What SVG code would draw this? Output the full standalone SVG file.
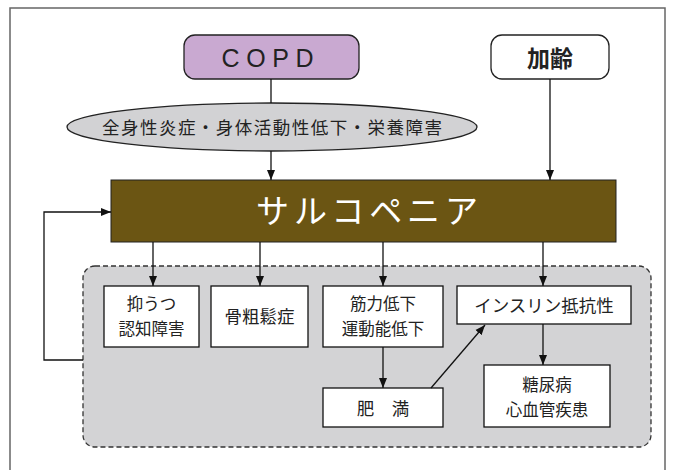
<svg xmlns="http://www.w3.org/2000/svg" width="674" height="470" viewBox="0 0 674 470">
<defs>
<marker id="ah" viewBox="0 0 10 10" refX="10" refY="5" markerWidth="10" markerHeight="10" markerUnits="userSpaceOnUse" orient="auto">
<path d="M0,1 L10,5 L0,9 Z" fill="#111"/>
</marker>
</defs>
<style>
text{font-family:"Noto Sans CJK JP","Liberation Sans",sans-serif;fill:#222;text-anchor:middle}
.box{fill:#fff;stroke:#111;stroke-width:1.3}
.t{font-size:17.5px}
.t2{font-size:16.5px}
.ln{fill:none;stroke:#111;stroke-width:1.3}
</style>
<rect x="10" y="8" width="655" height="480" fill="#fff" stroke="#666" stroke-width="1.5"/>
<g id="copd">
<rect x="184" y="35" width="175" height="44" rx="11" fill="#c9a9d1" stroke="#222" stroke-width="1.3"/>
<text x="271.5" y="67" style="font-family:'Liberation Sans',sans-serif;font-size:25px;letter-spacing:8px" textLength="100">COPD</text>
</g>
<g id="aging">
<rect x="491" y="35" width="118" height="44" rx="11" fill="#fff" stroke="#222" stroke-width="1.3"/>
<text x="550" y="67" style="font-size:23px;font-weight:bold">加齢</text>
</g>
<g id="factors">
<ellipse cx="272" cy="127" rx="205" ry="24" fill="#d2d2d4" stroke="#222" stroke-width="1.3"/>
<text x="272" y="134" class="t" textLength="340" lengthAdjust="spacing">全身性炎症・身体活動性低下・栄養障害</text>
</g>
<g id="sarcopenia">
<rect x="111" y="180" width="505" height="62" fill="#6b5513" stroke="#222" stroke-width="1"/>
<text x="367" y="223" style="font-size:33px;fill:#fff" textLength="222" lengthAdjust="spacing">サルコペニア</text>
</g>
<g id="outcomes">
<rect x="83" y="266" width="568" height="181" rx="12" fill="#d3d3d5" stroke="#333" stroke-width="1.3" stroke-dasharray="5,3"/>
</g>
<g id="depression">
<rect class="box" x="104" y="286" width="95" height="61"/>
<text class="t2" x="151.5" y="310">抑うつ</text>
<text class="t2" x="151.5" y="335">認知障害</text>
</g>
<g id="osteoporosis">
<rect class="box" x="211" y="286" width="97" height="61"/>
<text class="t" x="259.5" y="323">骨粗鬆症</text>
</g>
<g id="muscle">
<rect class="box" x="323" y="286" width="120" height="61"/>
<text class="t2" x="383" y="310">筋力低下</text>
<text class="t2" x="383" y="335">運動能低下</text>
</g>
<g id="insulin">
<rect class="box" x="457" y="286" width="174" height="38"/>
<text class="t" x="544" y="312">インスリン抵抗性</text>
</g>
<g id="obesity">
<rect class="box" x="323" y="388" width="120" height="39"/>
<text class="t" x="383" y="415" xml:space="preserve">肥　満</text>
</g>
<g id="diabetes">
<rect class="box" x="484" y="365" width="126" height="62"/>
<text class="t2" x="547" y="391">糖尿病</text>
<text class="t2" x="547" y="416">心血管疾患</text>
</g>
<g id="connectors">
<line class="ln" x1="271" y1="79" x2="271" y2="103"/>
<line class="ln" x1="271" y1="151" x2="271" y2="180" marker-end="url(#ah)"/>
<line class="ln" x1="550" y1="79" x2="550" y2="180" marker-end="url(#ah)"/>
<line class="ln" x1="153" y1="242" x2="153" y2="286" marker-end="url(#ah)"/>
<line class="ln" x1="260" y1="242" x2="260" y2="286" marker-end="url(#ah)"/>
<line class="ln" x1="383" y1="242" x2="383" y2="286" marker-end="url(#ah)"/>
<line class="ln" x1="543" y1="242" x2="543" y2="286" marker-end="url(#ah)"/>
<line class="ln" x1="383" y1="347" x2="383" y2="388" marker-end="url(#ah)"/>
<line class="ln" x1="543" y1="324" x2="543" y2="365" marker-end="url(#ah)"/>
<line class="ln" x1="431" y1="388" x2="485" y2="325" marker-end="url(#ah)"/>
<polyline class="ln" stroke-width="1.8" points="83,360 44,360 44,212 111,212" marker-end="url(#ah)"/>
</g>
</svg>
